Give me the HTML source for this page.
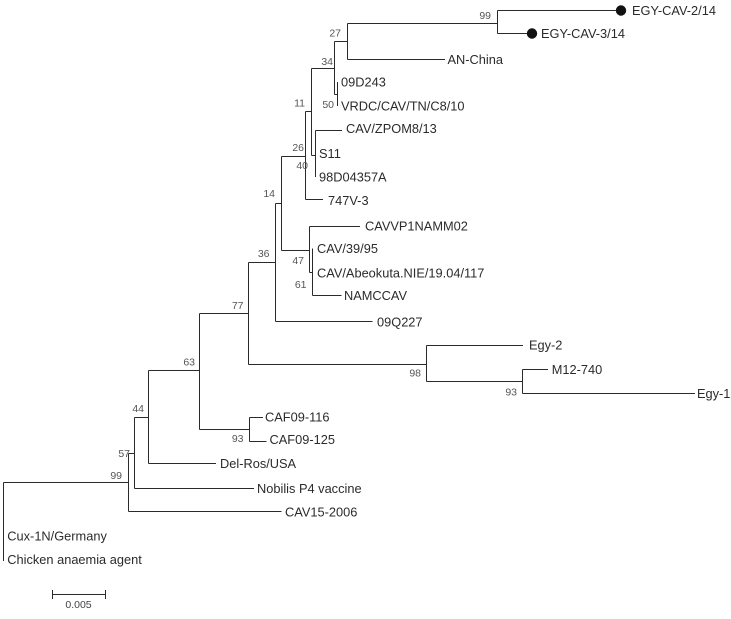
<!DOCTYPE html>
<html>
<head>
<meta charset="utf-8">
<style>
html,body{margin:0;padding:0;background:#fff;}
svg{display:block;}
.l{stroke:#2a2a2a;stroke-width:1;fill:none;}
.t{font-family:"Liberation Sans",Arial,sans-serif;font-size:12.8px;fill:#2b2b2b;}
.b{font-family:"Liberation Sans",Arial,sans-serif;font-size:10.5px;fill:#555;text-anchor:end;}
</style>
</head>
<body>
<svg width="731" height="619" viewBox="0 0 731 619" xmlns="http://www.w3.org/2000/svg">
<rect width="731" height="619" fill="#fff"/>
<g class="l">
<!-- root -->
<path d="M3.5 482.5 V561"/>
<path d="M3.5 482.5 H128.5"/>
<!-- node 99 bottom -->
<path d="M128.5 453.5 V511.5"/>
<path d="M128.5 511.5 H281.5"/>
<path d="M128.5 453.5 H134.5"/>
<!-- node 57 -->
<path d="M134.5 417.5 V488.5"/>
<path d="M134.5 488.5 H254"/>
<path d="M134.5 417.5 H148.5"/>
<!-- node 44 -->
<path d="M148.5 370.5 V463.5"/>
<path d="M148.5 463.5 H216"/>
<path d="M148.5 370.5 H199.5"/>
<!-- node 63 -->
<path d="M199.5 313.5 V429.5"/>
<path d="M199.5 429.5 H249.5"/>
<path d="M249.5 417.5 V441.5"/>
<path d="M249.5 417.5 H263"/>
<path d="M249.5 441.5 H266.5"/>
<path d="M199.5 313.5 H248.5"/>
<!-- node 77 -->
<path d="M248.5 262.5 V364.5"/>
<path d="M248.5 364.5 H426.5"/>
<path d="M426.5 345.5 V381.5"/>
<path d="M426.5 345.5 H523"/>
<path d="M426.5 381.5 H522.5"/>
<path d="M522.5 369.5 V393.5"/>
<path d="M522.5 369.5 H548"/>
<path d="M522.5 393.5 H695"/>
<path d="M248.5 262.5 H275.5"/>
<!-- node 36 -->
<path d="M275.5 203.5 V321.5"/>
<path d="M275.5 321.5 H372.5"/>
<path d="M275.5 203.5 H281.5"/>
<!-- node 14 -->
<path d="M281.5 156.5 V250.5"/>
<path d="M281.5 250.5 H309.5"/>
<!-- node 47 -->
<path d="M309.5 226.5 V272.5"/>
<path d="M309.5 226.5 H360"/>
<path d="M309.5 272.5 H312.5"/>
<path d="M312.5 248.5 V295.5"/>
<path d="M312.5 295.5 H341.5"/>
<path d="M281.5 156.5 H305.5"/>
<!-- node 26 -->
<path d="M305.5 111.5 V199.5"/>
<path d="M305.5 199.5 H323"/>
<path d="M305.5 111.5 H311.5"/>
<!-- node 11 -->
<path d="M311.5 68.5 V155.5"/>
<path d="M311.5 155.5 H315.5"/>
<path d="M315.5 130.5 V177"/>
<path d="M315.5 130.5 H342"/>
<path d="M311.5 68.5 H334.5"/>
<!-- node 34 -->
<path d="M334.5 41.5 V94.5"/>
<path d="M334.5 94.5 H337.5"/>
<path d="M337.5 82 V106"/>
<path d="M334.5 41.5 H347.5"/>
<!-- node 27 -->
<path d="M347.5 23.5 V59.5"/>
<path d="M347.5 59.5 H445"/>
<path d="M347.5 23.5 H497.5"/>
<path d="M497.5 10.5 V33.5"/>
<path d="M497.5 10.5 H616"/>
<path d="M497.5 33.5 H527"/>
<!-- scale bar -->
<path d="M52.5 594.5 H105.5"/>
<path d="M52.5 590 V599"/>
<path d="M105.5 590 V599"/>
</g>
<circle cx="621" cy="10.5" r="5.2" fill="#111"/>
<circle cx="532" cy="33.5" r="5.2" fill="#111"/>

<!-- leaf labels -->
<g class="t">
<text x="632" y="15">EGY-CAV-2/14</text>
<text x="541" y="38">EGY-CAV-3/14</text>
<text x="447.5" y="64">AN-China</text>
<text x="341" y="86.3">09D243</text>
<text x="341" y="110.6">VRDC/CAV/TN/C8/10</text>
<text x="346" y="133">CAV/ZPOM8/13</text>
<text x="319" y="158">S11</text>
<text x="319" y="181.3">98D04357A</text>
<text x="328" y="205">747V-3</text>
<text x="365" y="230.5">CAVVP1NAMM02</text>
<text x="317" y="253">CAV/39/95</text>
<text x="317" y="277.3">CAV/Abeokuta.NIE/19.04/117</text>
<text x="344" y="300">NAMCCAV</text>
<text x="377" y="326.3">09Q227</text>
<text x="529" y="349.6">Egy-2</text>
<text x="551.7" y="374">M12-740</text>
<text x="697" y="398">Egy-1</text>
<text x="265" y="421.3">CAF09-116</text>
<text x="269.5" y="444">CAF09-125</text>
<text x="220" y="468">Del-Ros/USA</text>
<text x="257" y="493">Nobilis P4 vaccine</text>
<text x="285" y="516.3">CAV15-2006</text>
<text x="7.3" y="540.6">Cux-1N/Germany</text>
<text x="7.3" y="564">Chicken anaemia agent</text>
</g>

<!-- bootstrap labels -->
<g class="b">
<text x="491" y="18.8">99</text>
<text x="341" y="36.5">27</text>
<text x="333" y="64.8">34</text>
<text x="305" y="106.5">11</text>
<text x="334" y="107.8">50</text>
<text x="304" y="151.1">26</text>
<text x="308" y="168.8">40</text>
<text x="275" y="197.1">14</text>
<text x="269.5" y="257.1">36</text>
<text x="304" y="263.8">47</text>
<text x="306.5" y="287.8">61</text>
<text x="243.5" y="308.8">77</text>
<text x="195" y="365.5">63</text>
<text x="421" y="376.5">98</text>
<text x="517" y="395.5">93</text>
<text x="243.5" y="442.1">93</text>
<text x="144" y="412.1">44</text>
<text x="130" y="456.8">57</text>
<text x="122" y="478.8">99</text>
</g>
<text x="78.5" y="607.8" style="font-family:'Liberation Sans',Arial,sans-serif;font-size:10.5px;fill:#444;text-anchor:middle;">0.005</text>
</svg>
</body>
</html>
